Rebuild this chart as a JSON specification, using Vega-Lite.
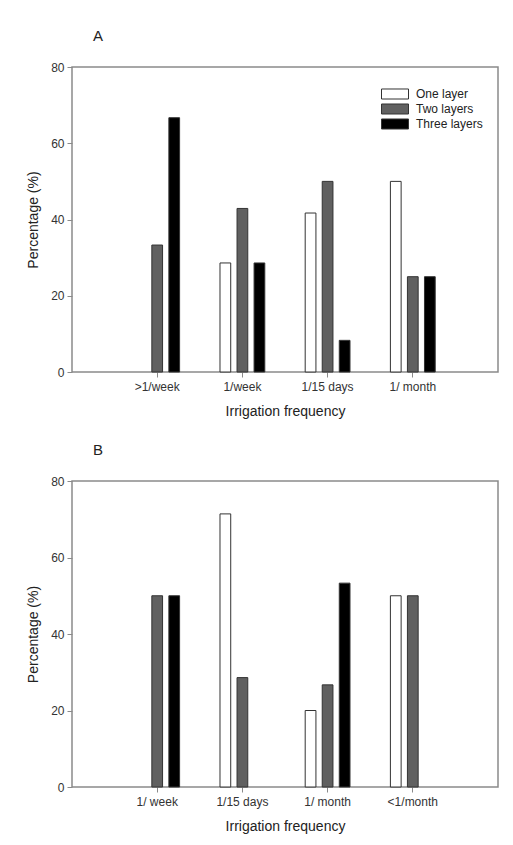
{
  "$schema": "https://vega.github.io/schema/vega-lite/v6.json",
  "background": "white",
  "padding": {"left": 25, "top": 28, "right": 10, "bottom": 0},
  "config": {
    "font": "Liberation Sans",
    "view": {"stroke": "#8a8a8a", "strokeWidth": 1.5},
    "axis": {"labelFont": "Liberation Sans", "titleFont": "Liberation Sans", "labelColor": "#333", "titleColor": "#222", "titleFontWeight": "normal", "labelFontSize": 12, "titleFontSize": 14, "tickColor": "#8a8a8a", "domainColor": "#8a8a8a", "tickSize": 5, "grid": false},
    "title": {"font": "Liberation Sans", "fontSize": 15, "fontWeight": "normal", "color": "#222", "anchor": "start", "frame": "group"},
    "legend": {"labelFont": "Liberation Sans", "labelFontSize": 12, "labelColor": "#222"},
    "concat": {"spacing": 23}
  },
  "datasets": {
    "rows": [
      {"panel": "A", "freq": ">1/week", "layer": "Two layers", "pct": 33.3},
      {"panel": "A", "freq": ">1/week", "layer": "Three layers", "pct": 66.7},
      {"panel": "A", "freq": "1/week", "layer": "One layer", "pct": 28.6},
      {"panel": "A", "freq": "1/week", "layer": "Two layers", "pct": 42.9},
      {"panel": "A", "freq": "1/week", "layer": "Three layers", "pct": 28.6},
      {"panel": "A", "freq": "1/15 days", "layer": "One layer", "pct": 41.7},
      {"panel": "A", "freq": "1/15 days", "layer": "Two layers", "pct": 50},
      {"panel": "A", "freq": "1/15 days", "layer": "Three layers", "pct": 8.3},
      {"panel": "A", "freq": "1/ month", "layer": "One layer", "pct": 50},
      {"panel": "A", "freq": "1/ month", "layer": "Two layers", "pct": 25},
      {"panel": "A", "freq": "1/ month", "layer": "Three layers", "pct": 25},
      {"panel": "B", "freq": "1/ week", "layer": "Two layers", "pct": 50},
      {"panel": "B", "freq": "1/ week", "layer": "Three layers", "pct": 50},
      {"panel": "B", "freq": "1/15 days", "layer": "One layer", "pct": 71.4},
      {"panel": "B", "freq": "1/15 days", "layer": "Two layers", "pct": 28.6},
      {"panel": "B", "freq": "1/ month", "layer": "One layer", "pct": 20},
      {"panel": "B", "freq": "1/ month", "layer": "Two layers", "pct": 26.7},
      {"panel": "B", "freq": "1/ month", "layer": "Three layers", "pct": 53.3},
      {"panel": "B", "freq": "<1/month", "layer": "One layer", "pct": 50},
      {"panel": "B", "freq": "<1/month", "layer": "Two layers", "pct": 50}
    ]
  },
  "resolve": {"scale": {"x": "independent"}},
  "vconcat": [
    {
      "title": {"text": "A", "dx": 21, "offset": 17},
      "width": 426,
      "height": 305,
      "data": {"name": "rows"},
      "transform": [{"filter": "datum.panel === 'A'"}],
      "mark": {"type": "bar", "stroke": "#333", "strokeWidth": 1},
      "encoding": {
        "x": {"field": "freq", "type": "nominal", "sort": [">1/week", "1/week", "1/15 days", "1/ month"], "scale": {"paddingInner": 0.4, "paddingOuter": 0.7}, "axis": {"title": "Irrigation frequency", "labelAngle": 0, "labelPadding": 4, "titlePadding": 12, "domain": false}},
        "xOffset": {"field": "layer", "type": "nominal", "scale": {"domain": ["One layer", "Two layers", "Three layers"], "paddingInner": 0.37, "paddingOuter": 0.185}},
        "y": {"field": "pct", "type": "quantitative", "scale": {"domain": [0, 80], "nice": false}, "axis": {"title": "Percentage (%)", "values": [0, 20, 40, 60, 80], "labelPadding": 3, "titlePadding": 10, "domain": false}},
        "fill": {"field": "layer", "type": "nominal", "scale": {"domain": ["One layer", "Two layers", "Three layers"], "range": ["#ffffff", "#606060", "#000000"]}, "legend": {"title": null, "orient": "none", "legendX": 316, "legendY": 20, "symbolType": "M-2.077,-0.77H2.077V0.77H-2.077Z", "symbolSize": 169, "symbolStrokeColor": "#333", "symbolStrokeWidth": 1, "rowPadding": -5.5, "labelOffset": 14}}
      }
    },
    {
      "title": {"text": "B", "dx": 21, "offset": 17},
      "width": 426,
      "height": 306,
      "data": {"name": "rows"},
      "transform": [{"filter": "datum.panel === 'B'"}],
      "mark": {"type": "bar", "stroke": "#333", "strokeWidth": 1},
      "encoding": {
        "x": {"field": "freq", "type": "nominal", "sort": ["1/ week", "1/15 days", "1/ month", "<1/month"], "scale": {"paddingInner": 0.4, "paddingOuter": 0.7}, "axis": {"title": "Irrigation frequency", "labelAngle": 0, "labelPadding": 4, "titlePadding": 12, "domain": false}},
        "xOffset": {"field": "layer", "type": "nominal", "scale": {"domain": ["One layer", "Two layers", "Three layers"], "paddingInner": 0.37, "paddingOuter": 0.185}},
        "y": {"field": "pct", "type": "quantitative", "scale": {"domain": [0, 80], "nice": false}, "axis": {"title": "Percentage (%)", "values": [0, 20, 40, 60, 80], "labelPadding": 3, "titlePadding": 10, "domain": false}},
        "fill": {"field": "layer", "type": "nominal", "scale": {"domain": ["One layer", "Two layers", "Three layers"], "range": ["#ffffff", "#606060", "#000000"]}, "legend": {"title": null, "orient": "none", "legendX": 316, "legendY": 18, "symbolType": "M-2.077,-0.77H2.077V0.77H-2.077Z", "symbolSize": 169, "symbolStrokeColor": "#333", "symbolStrokeWidth": 1, "rowPadding": -5.5, "labelOffset": 14}}
      }
    }
  ]
}
